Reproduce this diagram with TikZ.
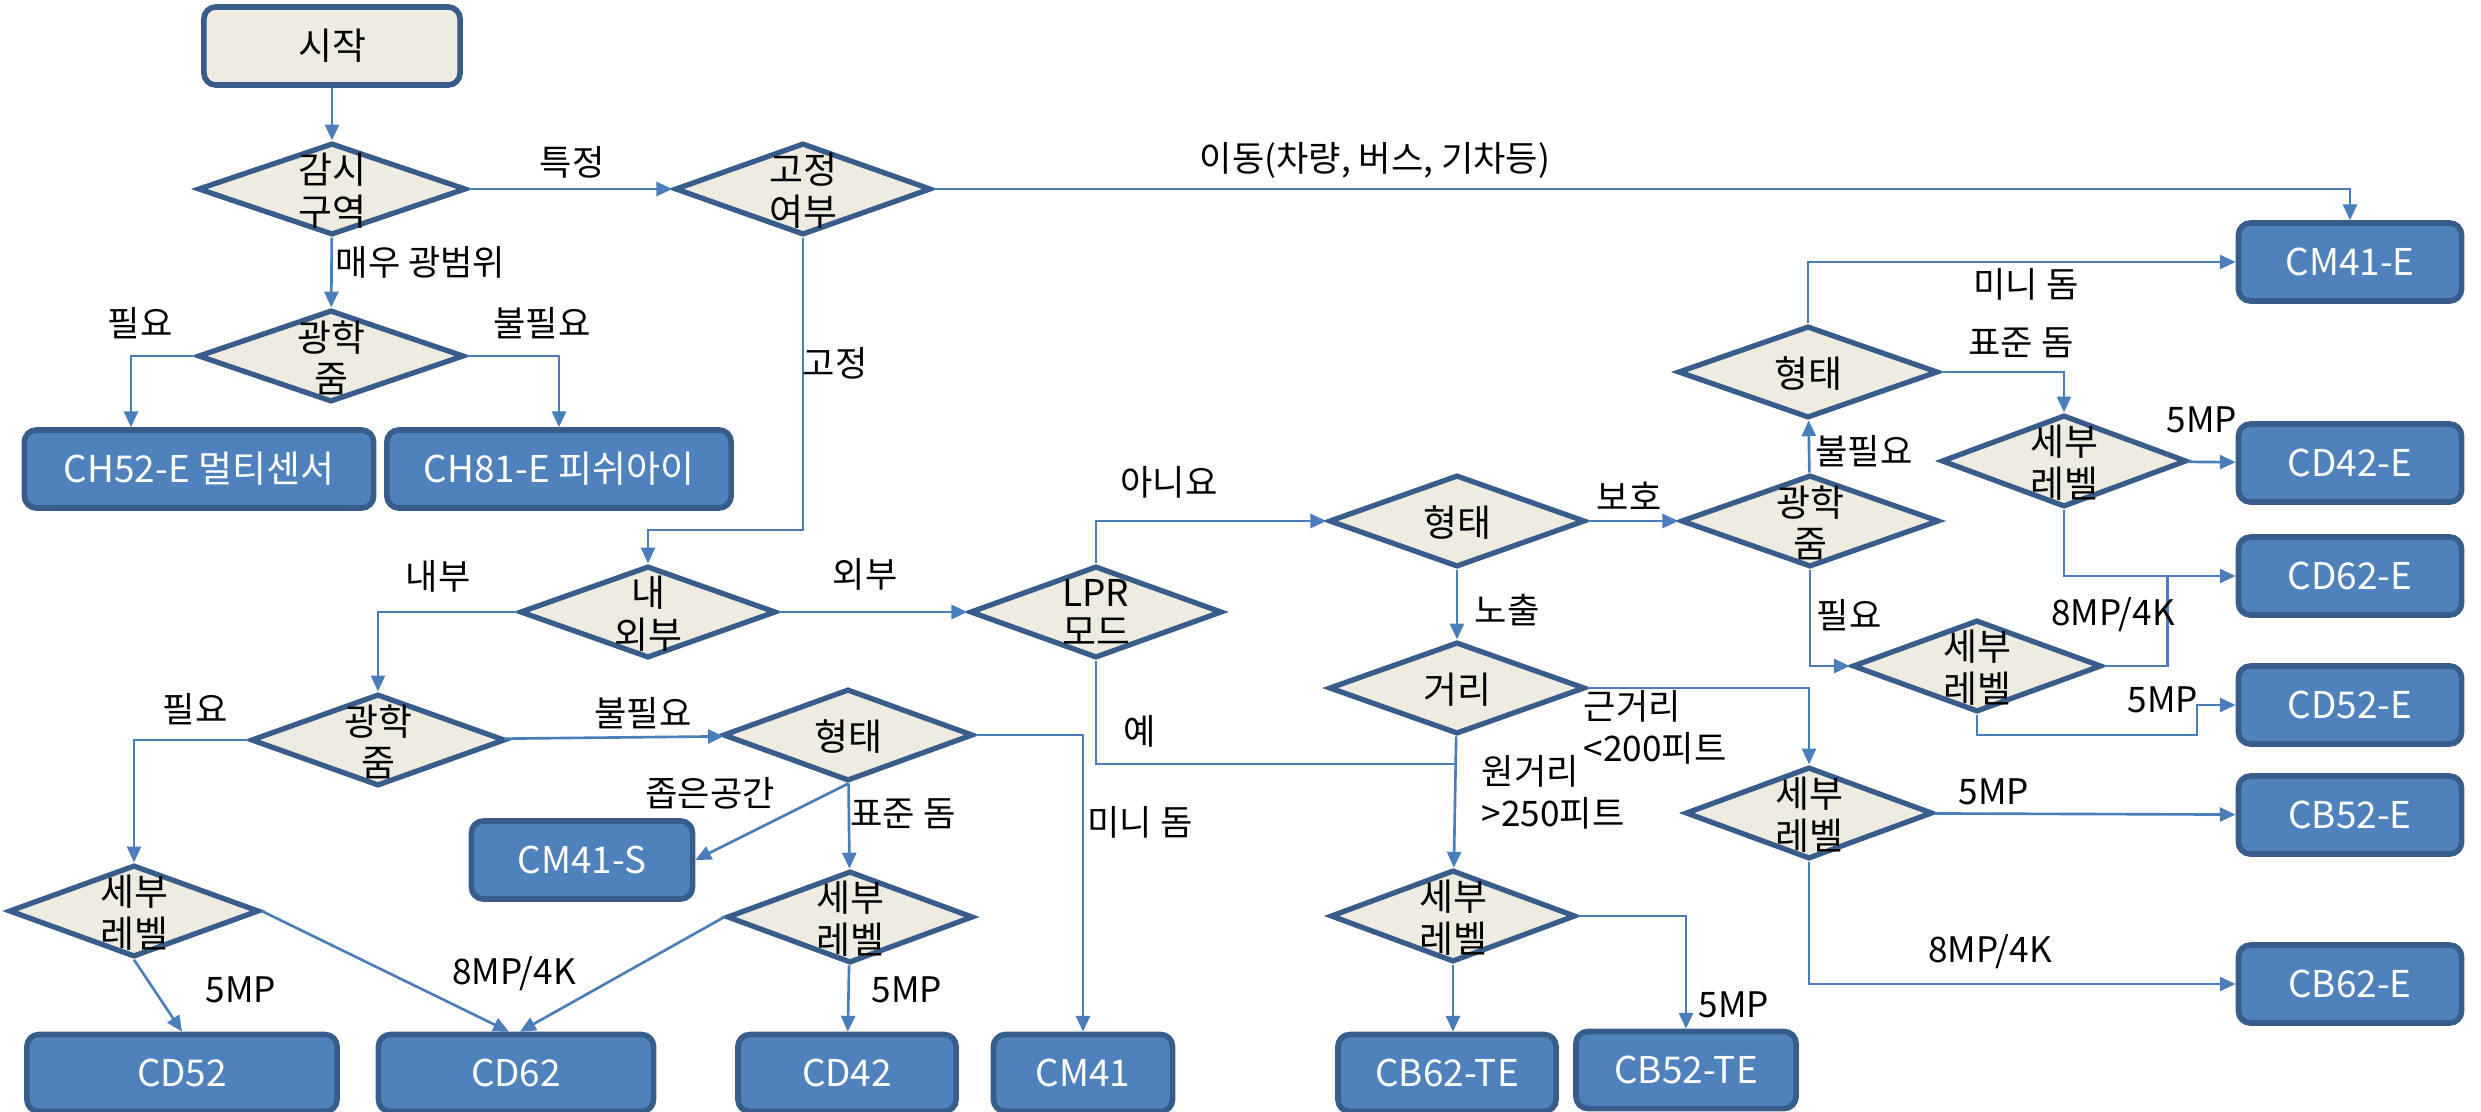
\documentclass[tikz,border=0pt]{standalone}
\usepackage{fontspec}
\setmainfont{Noto Sans CJK KR}
\usepackage{xcolor}
\usepackage{tikz}
\usetikzlibrary{shapes,arrows.meta}
\definecolor{boxblue}{HTML}{4F81BD}
\definecolor{edgeblue}{HTML}{385D8A}
\definecolor{linkblue}{HTML}{4A7EBB}
\definecolor{paper}{HTML}{EEECE1}
\newcommand{\dtext}[1]{\smash{\raisebox{-4.5pt}{\begin{tabular}{@{}c@{}}#1\end{tabular}}}}
\tikzstyle{decision} = [diamond, draw=edgeblue, line width=1.5pt, fill=paper, inner sep=0pt, aspect=2.8, minimum width=2.56cm, minimum height=0.92cm, font=\fontsize{10.5}{11}\selectfont]
\tikzstyle{block} = [rectangle, rounded corners=0.12cm, draw=edgeblue, line width=1.6pt, fill=boxblue, text=white, minimum width=2.23cm, minimum height=0.78cm, font=\fontsize{10.5}{12}\selectfont]
\tikzstyle{startbox} = [block, fill=paper, text=black]
\tikzstyle{line} = [draw=linkblue, line width=0.75pt, -{Triangle[length=4.5pt,width=4pt]}]
\tikzstyle{plainline} = [draw=linkblue, line width=0.75pt]
\tikzstyle{note} = [inner sep=0pt, font=\fontsize{10}{12}\selectfont]

\begin{document}
\begin{tikzpicture}[x=0.01cm, y=-0.01cm]
\useasboundingbox (0,0) rectangle (2481,1112);

\node [startbox, minimum width=2.56cm] (start) at (332,46) {시작};
\node [decision, minimum width=2.68cm] (area) at (332,189) {\dtext{감시\\구역}};
\node [decision] (fixed) at (803,189) {\dtext{고정\\여부}};
\node [decision, minimum width=2.66cm] (zoomA) at (331,356) {\dtext{광학\\줌}};
\node [block, minimum width=3.49cm] (ch52) at (199,469) {CH52-E 멀티센서};
\node [block, minimum width=3.44cm] (ch81) at (559,469) {CH81-E 피쉬아이};

\node [decision] (inout) at (648,612) {\dtext{내\\외부}};
\node [decision, minimum width=2.52cm] (lpr) at (1096,612) {\dtext{LPR\\모드}};
\node [decision, minimum width=2.54cm] (zoomL) at (378,740) {\dtext{광학\\줌}};
\node [decision, minimum width=2.5cm] (shapeL) at (848,735) {\dtext{형태}};
\node [block, minimum width=2.21cm] (cm41s) at (582,860) {CM41-S};
\node [decision, minimum width=2.5cm] (levelL) at (134,911) {\dtext{세부\\레벨}};
\node [decision, minimum width=2.46cm] (levelM) at (850,917) {\dtext{세부\\레벨}};

\node [block, minimum width=3.1cm, minimum height=0.77cm] (cd52) at (182,1073) {CD52};
\node [block, minimum width=2.75cm, minimum height=0.77cm] (cd62) at (516,1073) {CD62};
\node [block, minimum width=2.18cm, minimum height=0.77cm] (cd42) at (847,1073) {CD42};
\node [block, minimum width=1.79cm, minimum height=0.77cm] (cm41) at (1083,1073) {CM41};

\node [decision] (shapeM) at (1457,521) {\dtext{형태}};
\node [decision] (dist) at (1457,688) {\dtext{거리}};
\node [decision, minimum width=2.45cm] (levelB) at (1453,916) {\dtext{세부\\레벨}};
\node [block, minimum width=2.18cm, minimum height=0.77cm] (cb62te) at (1447,1073) {CB62-TE};
\node [block, minimum width=2.2cm, minimum height=0.77cm] (cb52te) at (1686,1070) {CB52-TE};

\node [decision, minimum width=2.58cm] (zoomR) at (1810,521) {\dtext{광학\\줌}};
\node [decision, minimum width=2.6cm] (shapeR) at (1808,372) {\dtext{형태}};
\node [decision, minimum width=2.45cm] (levelR1) at (2064,461) {\dtext{세부\\레벨}};
\node [decision, minimum width=2.49cm] (levelR2) at (1977,666) {\dtext{세부\\레벨}};
\node [decision, minimum width=2.47cm] (levelR3) at (1809,813) {\dtext{세부\\레벨}};

\node [block] (cm41e) at (2350,262) {CM41-E};
\node [block] (cd42e) at (2350,463) {CD42-E};
\node [block] (cd62e) at (2350,576) {CD62-E};
\node [block] (cd52e) at (2350,705) {CD52-E};
\node [block] (cb52e) at (2350,815) {CB52-E};
\node [block] (cb62e) at (2350,984) {CB62-E};

% top part
\path [line] (start) -- (area);
\path [line] (area) -- (fixed);
\path [line] (fixed.east) -| (cm41e.north);
\path [line] (area) -- (zoomA);
\path [line] (zoomA.west) -| ([xshift=-0.68cm]ch52.north);
\path [line] (zoomA.east) -| (ch81.north);
\path [line] (fixed.south) -- (803,530) -| (inout.north);

\node [note] (lSpecific) at (572,162) {특정};
\node [note] (lMoving) at (1375,160) {이동(차량, 버스, 기차등)};
\node [note, anchor=west] (lWide) at (335,262) {매우 광범위};
\node [note] (lNeedA) at (140,323) {필요};
\node [note] (lNoNeedA) at (542,323) {불필요};
\node [note] (lFixed) at (835,363) {고정};

% indoor / outdoor
\path [line] (inout) -- (lpr);
\path [line] (inout.west) -| (zoomL.north);
\path [line] (zoomL) -- (shapeL);
\path [line] (zoomL.west) -| (levelL.north);
\path [line] (shapeL.east) -| (cm41.north);
\path [line] (shapeL.south) -- (cm41s.east);
\path [line] (shapeL) -- (levelM);
\path [line] (levelM) -- (cd42);
\path [line] (levelM.west) -- ([xshift=0.04cm]cd62.north);
\path [line] (levelL.east) -- ([xshift=-0.07cm]cd62.north);
\path [line] (levelL.south) -- (cd52.north);

\node [note] (lInside) at (438,576) {내부};
\node [note] (lOutside) at (865,574) {외부};
\node [note] (lNeedL) at (195,709) {필요};
\node [note] (lNoNeedL) at (643,713) {불필요};
\node [note] (lNarrow) at (710,793) {좁은공간};
\node [note] (lStdL) at (903,814) {표준 돔};
\node [note] (lMiniL) at (1140,822) {미니 돔};
\node [note] (l5L) at (241,990) {5MP};
\node [note] (l8L) at (514,974) {8MP/4K};
\node [note] (l5M) at (907,990) {5MP};

% LPR branch
\coordinate (jB) at (1455,764);
\path [line] (lpr.north) |- (shapeM.west);
\path [plainline] (lpr.south) |- (jB);
\path [line] (shapeM) -- (dist);
\path [line] (shapeM) -- (zoomR);
\path [line] (dist) -- (levelB);
\path [line] (dist.east) -| (levelR3.north);
\path [line] (levelB.south) -- (levelB.south |- cb62te.north);
\path [line] (levelB.east) -| (cb52te.north);

\node [note] (lNo) at (1169,482) {아니요};
\node [note] (lYes) at (1140,731) {예};
\node [note] (lExposed) at (1507,610) {노출};
\node [note] (lProtect) at (1629,496) {보호};
\node [note, anchor=west, align=left] (lNear) at (1583,727) {근거리\\<200피트};
\node [note, anchor=west, align=left] (lFar) at (1481,792) {원거리\\>250피트};
\node [note] (l5B) at (1734,1005) {5MP};

% right part
\path [line] (zoomR) -- (shapeR);
\path [line] (shapeR.north) |- (cm41e.west);
\path [line] (shapeR.east) -| (levelR1.north);
\path [line] (levelR1) -- (cd42e);
\path [line] (levelR1.south) |- (cd62e.west);
\path [line] (zoomR.south) |- (levelR2.west);
\path [plainline] (levelR2.east) -| ([xshift=-0.68cm]cd62e.west);
\path [line] (levelR2.south) |- (2197,735) |- (cd52e.west);
\path [line] (levelR3) -- (cb52e);
\path [line] (levelR3.south) |- (cb62e.west);

\node [note] (lNoNeedR) at (1864,451) {불필요};
\node [note] (lNeedR) at (1849,615) {필요};
\node [note] (lMiniR) at (2026,284) {미니 돔};
\node [note] (lStdR) at (2021,343) {표준 돔};
\node [note] (l5R1) at (2202,420) {5MP};
\node [note] (l8R2) at (2113,615) {8MP/4K};
\node [note] (l5R2) at (2163,700) {5MP};
\node [note] (l5R3) at (1994,792) {5MP};
\node [note] (l8R3) at (1990,952) {8MP/4K};

\end{tikzpicture}
\end{document}
